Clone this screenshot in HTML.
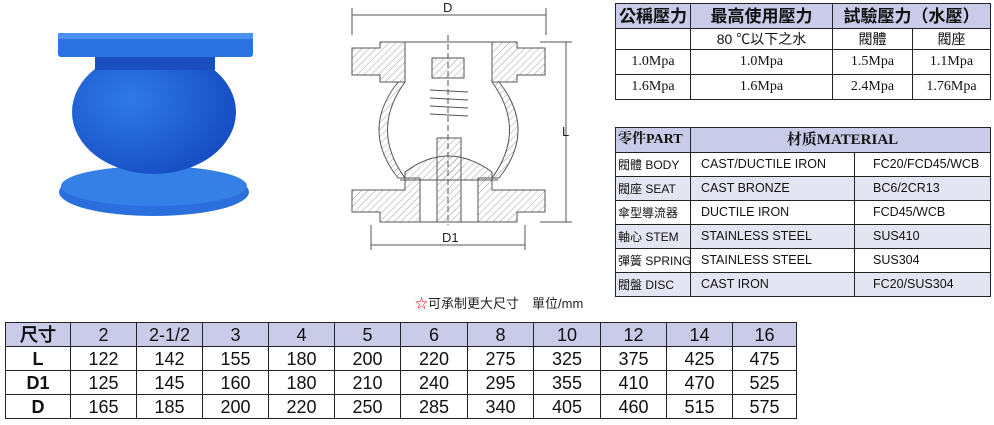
<!DOCTYPE html>
<html><head><meta charset="utf-8"><style>
*{margin:0;padding:0;box-sizing:border-box}
body{width:994px;height:425px;background:#fff;position:relative;overflow:hidden;font-family:"Liberation Sans","Noto Sans CJK TC",sans-serif;color:#111}
table{position:absolute;border-collapse:collapse;table-layout:fixed}
td{border:1.5px solid #222;text-align:center;padding:0;white-space:nowrap;overflow:hidden;line-height:1}
.h{background:#c9cbe8}
.alt{background:#e4e5f2}
.serif{font-family:"Liberation Serif","Noto Serif CJK SC",serif}
#t1 td{font-size:14px}
#t2 td{font-size:12.5px;text-align:left;padding-left:4px}
#t2 td.c{font-size:12px;padding-left:2px}
#t3 td{font-size:18px;font-family:"Liberation Sans Narrow","Liberation Sans",sans-serif}
</style></head><body>

<svg width="994" height="425" style="position:absolute;left:0;top:0">
<defs><pattern id="hat" width="5" height="5" patternUnits="userSpaceOnUse" patternTransform="rotate(45)"><line x1="0" y1="0" x2="0" y2="5" stroke="#888" stroke-width="0.8"/></pattern>
<radialGradient id="bg" cx="0.35" cy="0.4" r="0.75"><stop offset="0" stop-color="#2f7ae8"/><stop offset="1" stop-color="#1448c0"/></radialGradient></defs>
<ellipse cx="154" cy="192" rx="95" ry="24" fill="#2a6fdc"/>
<ellipse cx="154" cy="186" rx="93" ry="20" fill="#3580e6"/>
<ellipse cx="154" cy="112" rx="82" ry="62" fill="url(#bg)"/>
<rect x="95" y="55" width="120" height="15" fill="#1a4fc0"/>
<rect x="58" y="33" width="195" height="24" rx="3" fill="#2a72e0"/>
<rect x="58" y="33" width="195" height="6" fill="#4a90ee"/>
<g stroke="#555" stroke-width="1">
<path d="M352 48 H380 V42 H405 V82 H380 V75 H352 Z" fill="url(#hat)"/>
<path d="M545 48 H517 V42 H492 V82 H517 V75 H545 Z" fill="url(#hat)"/>
<path d="M352 190 H405 V178 H420 V222 H380 V212 H352 Z" fill="url(#hat)"/>
<path d="M545 190 H492 V178 H478 V222 H517 V212 H545 Z" fill="url(#hat)"/>
<path d="M405 82 Q370 130 405 178 L398 178 Q360 130 398 82 Z" fill="url(#hat)"/>
<path d="M492 82 Q527 130 492 178 L499 178 Q537 130 499 82 Z" fill="url(#hat)"/>
<rect x="432" y="58" width="32" height="20" fill="url(#hat)"/>
<path d="M405 172 Q448 140 492 172 V180 H405 Z" fill="url(#hat)"/>
<rect x="437" y="138" width="24" height="84" fill="url(#hat)"/>
</g>
<g stroke="#555" stroke-width="1" fill="none">
<path d="M430 90 L468 92 M430 98 L468 100 M430 106 L468 108 M430 114 L468 116"/>
<line x1="400" y1="180" x2="498" y2="180"/><line x1="405" y1="42" x2="492" y2="42"/><line x1="420" y1="222" x2="478" y2="222"/>
<line x1="352" y1="15" x2="546" y2="15"/><line x1="352" y1="8" x2="352" y2="35"/><line x1="546" y1="8" x2="546" y2="35"/>
<line x1="566" y1="42" x2="566" y2="222"/><line x1="540" y1="42" x2="572" y2="42"/><line x1="540" y1="222" x2="572" y2="222"/>
<line x1="371" y1="245" x2="525" y2="245"/><line x1="371" y1="225" x2="371" y2="250"/><line x1="525" y1="225" x2="525" y2="250"/>
<line x1="448" y1="35" x2="448" y2="225" stroke-dasharray="6 3"/>
</g>
<g font-size="13" fill="#222"><text x="443" y="12">D</text><text x="562" y="136">L</text><text x="442" y="242">D1</text></g>
<text x="415" y="308" font-size="13" fill="#222"><tspan fill="#e00">☆</tspan>可承制更大尺寸　單位/mm</text>
</svg>

<table id="t1" style="left:615px;top:3px;width:375px">
<col style="width:75px"><col style="width:142px"><col style="width:80px"><col style="width:78px">
<tr class="h" style="height:25px"><td style="font-size:17px;font-weight:bold">公稱壓力</td><td style="font-size:17px;font-weight:bold">最高使用壓力</td><td colspan="2" style="font-size:17px;font-weight:bold">試驗壓力（水壓）</td></tr>
<tr style="height:21px"><td></td><td>80 ℃以下之水</td><td>閥體</td><td>閥座</td></tr>
<tr style="height:25px"><td class="serif">1.0Mpa</td><td class="serif">1.0Mpa</td><td class="serif">1.5Mpa</td><td class="serif">1.1Mpa</td></tr>
<tr style="height:25px"><td class="serif">1.6Mpa</td><td class="serif">1.6Mpa</td><td class="serif">2.4Mpa</td><td class="serif">1.76Mpa</td></tr>
</table>

<table id="t2" style="left:615px;top:127px;width:375px">
<col style="width:75px"><col style="width:164px"><col style="width:136px">
<tr class="h" style="height:25px"><td class="serif" style="font-size:14px;font-weight:bold;padding-left:2px">零件PART</td><td colspan="2" class="serif" style="font-size:15px;font-weight:bold;text-align:center">材质MATERIAL</td></tr>
<tr style="height:24px"><td class="c">閥體 BODY</td><td style="padding-left:10px">CAST/DUCTILE IRON</td><td style="padding-left:18px">FC20/FCD45/WCB</td></tr>
<tr class="alt" style="height:24px"><td class="c">閥座 SEAT</td><td style="padding-left:10px">CAST BRONZE</td><td style="padding-left:18px">BC6/2CR13</td></tr>
<tr style="height:24px"><td class="c">傘型導流器</td><td style="padding-left:10px">DUCTILE IRON</td><td style="padding-left:18px">FCD45/WCB</td></tr>
<tr class="alt" style="height:24px"><td class="c">軸心 STEM</td><td style="padding-left:10px">STAINLESS STEEL</td><td style="padding-left:18px">SUS410</td></tr>
<tr style="height:24px"><td class="c">彈簧 SPRING</td><td style="padding-left:10px">STAINLESS STEEL</td><td style="padding-left:18px">SUS304</td></tr>
<tr class="alt" style="height:24px"><td class="c">閥盤 DISC</td><td style="padding-left:10px">CAST IRON</td><td style="padding-left:18px">FC20/SUS304</td></tr>
</table>

<table id="t3" style="left:5px;top:322px;width:791px">
<col style="width:65px"><col style="width:66px"><col style="width:66px"><col style="width:66px"><col style="width:66px"><col style="width:66px"><col style="width:67px"><col style="width:66px"><col style="width:67px"><col style="width:66px"><col style="width:66px"><col style="width:64px">
<tr class="h" style="height:24px"><td style="font-weight:bold">尺寸</td><td>2</td><td>2-1/2</td><td>3</td><td>4</td><td>5</td><td>6</td><td>8</td><td>10</td><td>12</td><td>14</td><td>16</td></tr>
<tr style="height:24px"><td style="font-weight:bold">L</td><td>122</td><td>142</td><td>155</td><td>180</td><td>200</td><td>220</td><td>275</td><td>325</td><td>375</td><td>425</td><td>475</td></tr>
<tr style="height:24px"><td style="font-weight:bold">D1</td><td>125</td><td>145</td><td>160</td><td>180</td><td>210</td><td>240</td><td>295</td><td>355</td><td>410</td><td>470</td><td>525</td></tr>
<tr style="height:24px"><td style="font-weight:bold">D</td><td>165</td><td>185</td><td>200</td><td>220</td><td>250</td><td>285</td><td>340</td><td>405</td><td>460</td><td>515</td><td>575</td></tr>
</table>
</body></html>
